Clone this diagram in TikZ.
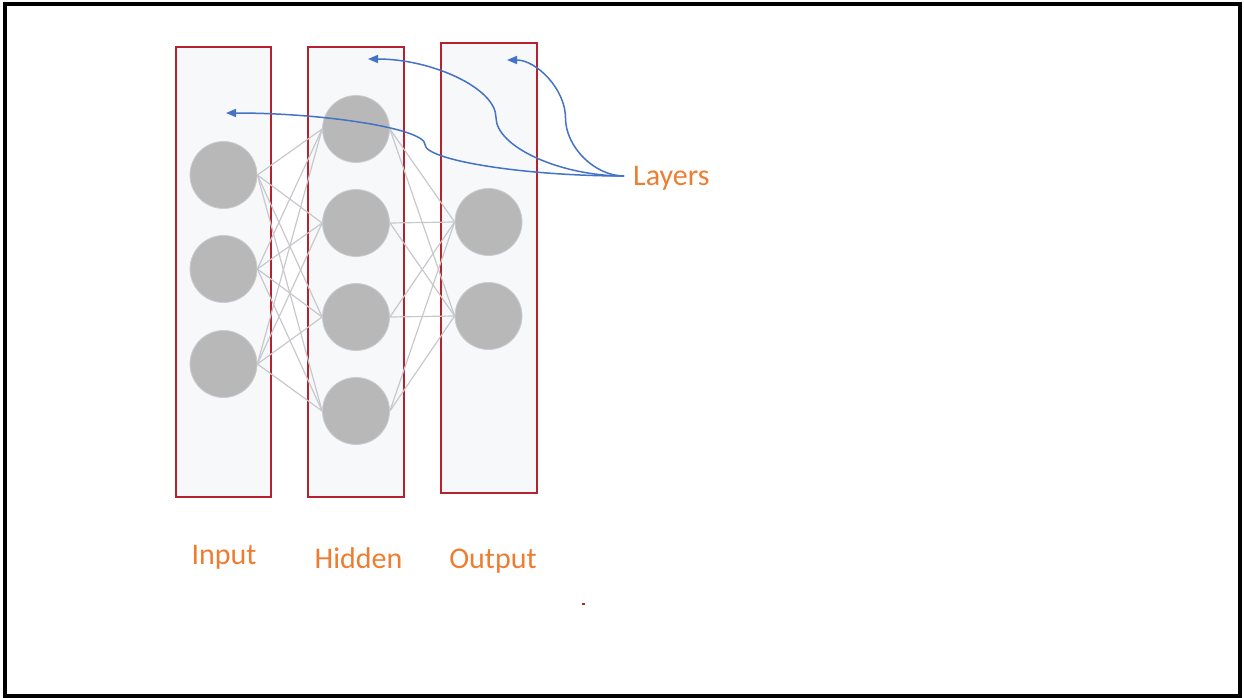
\documentclass[tikz,border=0pt]{standalone}
\usepackage{fontspec}
\setmainfont{Carlito}
\usetikzlibrary{arrows.meta}
\definecolor{layerred}{HTML}{B5222F}
\definecolor{layerfill}{HTML}{F7F8FA}
\definecolor{neuron}{HTML}{B8B8B8}
\definecolor{neuronedge}{HTML}{C9CCD1}
\definecolor{wire}{HTML}{C6C8CC}
\definecolor{lblorange}{HTML}{ED7D31}
\definecolor{arrowblue}{HTML}{4472C4}
\pgfdeclarelayer{boxes}
\pgfdeclarelayer{wires}
\pgfsetlayers{boxes,wires,main}
\tikzset{
  layerbox/.style={draw=layerred, line width=2.8pt, fill=layerfill, rectangle, inner sep=0pt},
  neuronnode/.style={circle, fill=neuron, draw=neuronedge, line width=0.8pt, minimum size=67pt, inner sep=0pt},
  wireline/.style={draw=wire, line width=1.2pt},
  lbl/.style={text=lblorange, font=\fontsize{30}{36}\selectfont, inner sep=0pt, anchor=base},
  pointer/.style={draw=arrowblue, line width=1.5pt, -{Triangle[length=10pt,width=8pt]}}
}
\begin{document}
\begin{tikzpicture}[x=1pt,y=-1pt]
\useasboundingbox (0,0) rectangle (1244,698);
\draw[black, line width=3.5pt] (5,4) rectangle (1240,696);

% layer boxes
\begin{pgfonlayer}{boxes}
\node[layerbox, minimum width=95pt, minimum height=450pt] (inbox) at (223.5,272) {};
\node[layerbox, minimum width=96pt, minimum height=450pt] (hidbox) at (356,272) {};
\node[layerbox, minimum width=96pt, minimum height=450pt] (outbox) at (489,268) {};
\end{pgfonlayer}

% neurons
\node[neuronnode] (i1) at (223.5,175) {};
\node[neuronnode] (i2) at (223.5,269) {};
\node[neuronnode] (i3) at (223.5,364) {};
\node[neuronnode] (h1) at (356,129) {};
\node[neuronnode] (h2) at (356,223) {};
\node[neuronnode] (h3) at (356,317) {};
\node[neuronnode] (h4) at (356,411) {};
\node[neuronnode] (o1) at (488.5,222) {};
\node[neuronnode] (o2) at (488.5,316) {};

% wires
\begin{pgfonlayer}{wires}
\foreach \a in {i1,i2,i3}{
  \foreach \b in {h1,h2,h3,h4}{
    \draw[wireline] (\a.east) -- (\b.west);
  }
}
\foreach \a in {h1,h2,h3,h4}{
  \foreach \b in {o1,o2}{
    \draw[wireline] (\a.east) -- (\b.west);
  }
}
\end{pgfonlayer}

% labels
\node[lbl] (linput) at (224,564) {Input};
\node[lbl] (lhidden) at (358.5,568) {Hidden};
\node[lbl] (loutput) at (493,568) {Output};
\node[lbl, anchor=base west] (llayers) at (633,185) {Layers};

% stray mark
\fill[layerred] (581.5,603) rectangle (585,605);

% pointers
\coordinate (ls) at (624,176);
\coordinate (t1) at (226,113);
\coordinate (t2) at (368,59);
\coordinate (t3) at (507,60);
\coordinate (m1) at (425,144.5);
\coordinate (m2) at (496,117.5);
\coordinate (m3) at (565.5,118);
\draw[pointer] (ls) .. controls (524.5,176) and (425,160.25) .. (m1)
  .. controls (425,128.75) and (325.5,113) .. (t1);
\draw[pointer] (ls) .. controls (560,176) and (496,146.75) .. (m2)
  .. controls (496,88.25) and (432,59) .. (t2);
\draw[pointer] (ls) .. controls (594.75,176) and (565.5,147) .. (m3)
  .. controls (565.5,89) and (536.25,60) .. (t3);
\end{tikzpicture}
\end{document}
